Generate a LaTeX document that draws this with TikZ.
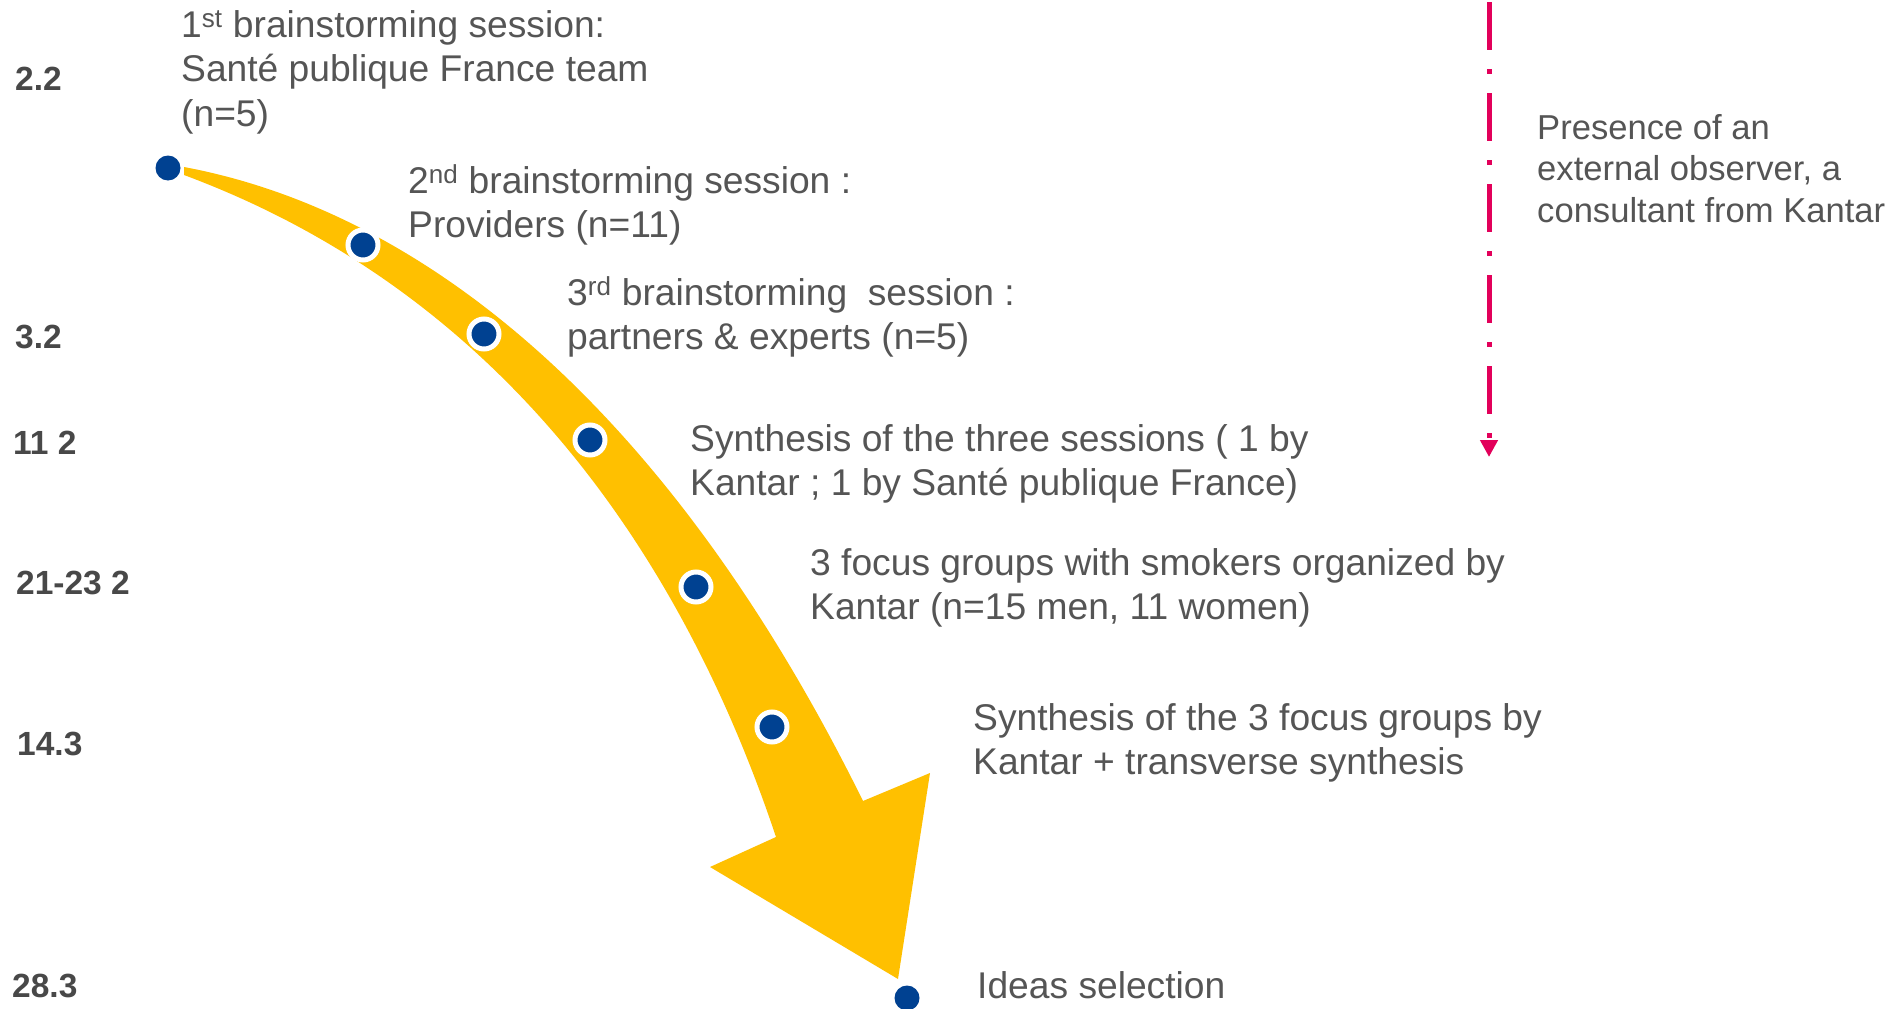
\documentclass[tikz,border=0pt]{standalone}
\usepackage{fontspec}
\setmainfont{Liberation Sans}
\usetikzlibrary{arrows.meta}
\definecolor{txt}{RGB}{85,85,85}
\definecolor{datec}{RGB}{72,72,72}
\definecolor{gold}{RGB}{255,192,0}
\definecolor{navy}{RGB}{0,65,145}
\definecolor{crimson}{RGB}{226,0,90}

\begin{document}
\begin{tikzpicture}[x=1pt,y=-1pt,
  datelbl/.style={anchor=base west, inner sep=0pt, text=datec,
    font=\fontsize{33.5}{40}\selectfont\bfseries},
  % multi-line nodes: the base anchor sits on the last line
  steptxt/.style={anchor=base west, inner sep=0pt, text=txt, align=left,
    font=\fontsize{37.2}{44.6}\selectfont},
  notetxt/.style={anchor=base west, inner sep=0pt, text=txt, align=left,
    font=\fontsize{34.6}{41.5}\selectfont},
  enddot/.style={circle, fill=navy, minimum size=25pt, inner sep=0pt},
  ringdot/.style={circle, fill=navy, draw=white, line width=5pt,
    minimum size=30pt, inner sep=0pt},
  obsline/.style={crimson, line width=5pt,
    dash pattern=on 48pt off 19pt on 5pt off 19pt,
    -{Triangle[length=17pt,width=17pt]}},
]
\fill[white] (0,0) rectangle (1891,1009);
\useasboundingbox (0,0) rectangle (1891,1009);

% curved timeline arrow
\fill[gold] (184,167) .. controls (440,215) and (680,430) .. (863,801)
  -- (930,773) -- (898,979) -- (710,867) -- (776,837)
  .. controls (690,580) and (520,300) .. (184,175) -- cycle;

% milestones on the arrow
\node[enddot]  (m1) at (168,168) {};
\node[ringdot] (m2) at (363,245) {};
\node[ringdot] (m3) at (484,334) {};
\node[ringdot] (m4) at (590,440) {};
\node[ringdot] (m5) at (696,587) {};
\node[ringdot] (m6) at (772,727) {};
\node[enddot]  (m7) at (907,998) {};

% dates
\node[datelbl] (dA) at (15,90)  {2.2};
\node[datelbl] (dB) at (15,348) {3.2};
\node[datelbl] (dC) at (13,454) {11 2};
\node[datelbl] (dD) at (16,594) {21-23 2};
\node[datelbl] (dE) at (17,755) {14.3};
\node[datelbl] (dF) at (12,997) {28.3};

% step descriptions
\node[steptxt] (s1) at (181,126.2)
  {1\textsuperscript{st} brainstorming session:\\Santé publique France team\\(n=5)};
\node[steptxt] (s2) at (408,237.6)
  {2\textsuperscript{nd} brainstorming session :\\Providers (n=11)};
\node[steptxt] (s3) at (567,349.6)
  {3\textsuperscript{rd} brainstorming~ session :\\partners \& experts (n=5)};
\node[steptxt] (s4) at (690,495.6)
  {Synthesis of the three sessions ( 1 by\\Kantar ; 1 by Santé publique France)};
\node[steptxt] (s5) at (810,619.6)
  {3 focus groups with smokers organized by\\Kantar (n=15 men, 11 women)};
\node[steptxt] (s6) at (973,774.6)
  {Synthesis of the 3 focus groups by\\Kantar + transverse synthesis};
\node[steptxt] (s7) at (977,998) {Ideas selection};

% external observer
\coordinate (obsTop) at (1489,2);
\coordinate (obsEnd) at (1489,457);
\draw[obsline] (obsTop) -- (obsEnd);
\node[notetxt] (obs) at (1537,222)
  {Presence of an\\external observer, a\\consultant from Kantar};
\end{tikzpicture}
\end{document}
